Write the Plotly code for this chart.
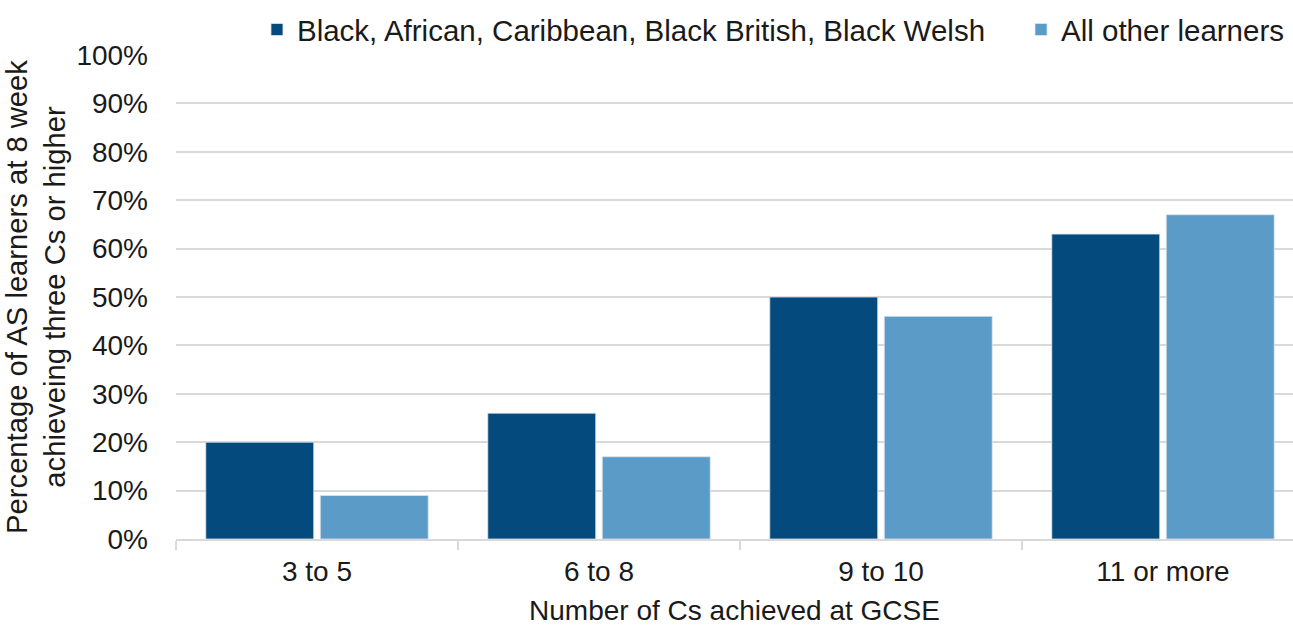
import plotly.graph_objects as go

categories = ["3 to 5", "6 to 8", "9 to 10", "11 or more"]
black_learners = [20, 26, 50, 63]
other_learners = [9, 17, 46, 67]

series_names = ["Black, African, Caribbean, Black British, Black Welsh", "All other learners"]
y_ticks = list(range(0, 101, 10))

DARK = "#044A7C"
LIGHT = "#5B9BC7"
TEXT = "#1A1A1A"
GRID = "#D9D9D9"
FONT = "Liberation Sans, Arial, sans-serif"
FS = 28
LEGEND_FS = 29.5
YTITLE_FS = 29.2

fig = go.Figure()
fig.add_trace(go.Bar(
    x=categories, y=black_learners, name=series_names[0], legend="legend",
    marker=dict(color=DARK, line=dict(color="#DCE6F0", width=0.8)),
))
fig.add_trace(go.Bar(
    x=categories, y=other_learners, name=series_names[1], legend="legend2",
    marker=dict(color=LIGHT, line=dict(color="#DCE6F0", width=0.8)),
))

legend_style = dict(
    orientation="h", xanchor="left", y=1.052, yanchor="middle",
    font=dict(size=LEGEND_FS, color=TEXT), bgcolor="rgba(0,0,0,0)",
)

fig.update_layout(
    width=1293, height=626,
    margin=dict(l=176, r=0, t=55, b=87),
    plot_bgcolor="white", paper_bgcolor="white",
    barmode="group", bargap=0.188, bargroupgap=0.057,
    font=dict(family=FONT, size=FS, color=TEXT),
    showlegend=True,
    legend=dict(x=0.0725, **legend_style),
    legend2=dict(x=0.7565, **legend_style),
)

fig.update_xaxes(
    range=[-0.5, 3.461],
    showline=True, linecolor=GRID, linewidth=2,
    ticks="outside", tickson="boundaries", ticklen=9, tickcolor=GRID, tickwidth=2,
    showgrid=False,
    ticklabelstandoff=6,
    tickfont=dict(size=FS, color=TEXT),
    title=dict(text="Number of Cs achieved at GCSE", font=dict(size=FS, color=TEXT), standoff=16),
)

fig.update_yaxes(
    range=[0, 100],
    tickvals=y_ticks, ticktext=[f"{v}%" for v in y_ticks],
    showgrid=True, gridcolor=GRID, gridwidth=2,
    zeroline=False, showline=False, ticks="",
    ticklabelstandoff=27,
    tickfont=dict(size=FS, color=TEXT),
    title=dict(
        text="Percentage of AS learners at 8 week<br>achieveing three Cs or higher",
        font=dict(size=YTITLE_FS, color=TEXT), standoff=2,
    ),
)

fig.write_html("out.html")
